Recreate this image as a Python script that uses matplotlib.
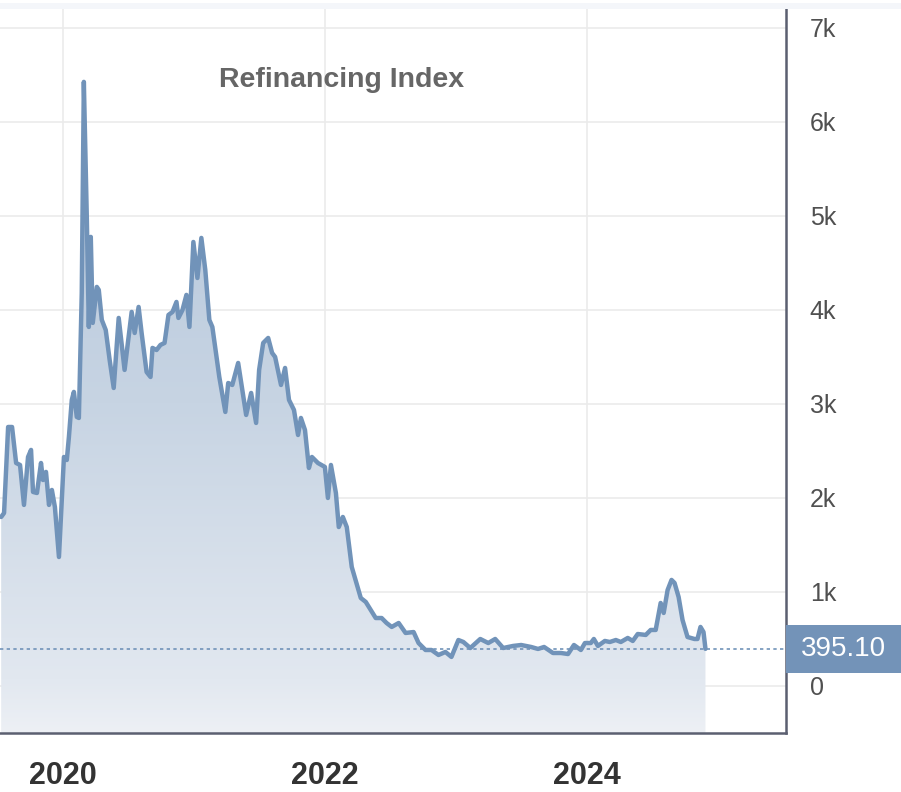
import numpy as np
import matplotlib
matplotlib.use("Agg")
import matplotlib.pyplot as plt
from matplotlib.patches import Rectangle
from matplotlib.colors import LinearSegmentedColormap

plt.rcParams['font.family'] = ['Liberation Sans', 'DejaVu Sans']

# weekly refinancing index (decimal years)
years = [2019.529, 2019.551, 2019.582, 2019.612, 2019.643, 2019.673, 2019.703, 2019.734,
         2019.757, 2019.772, 2019.802, 2019.833, 2019.848, 2019.871, 2019.894, 2019.916,
         2019.939, 2019.970, 2020.008, 2020.030, 2020.046, 2020.068, 2020.084, 2020.106,
         2020.122, 2020.144, 2020.160, 2020.183, 2020.198, 2020.213, 2020.228, 2020.259,
         2020.274, 2020.297, 2020.327, 2020.357, 2020.388, 2020.426, 2020.471, 2020.525,
         2020.548, 2020.578, 2020.601, 2020.639, 2020.669, 2020.684, 2020.715, 2020.745,
         2020.776, 2020.806, 2020.837, 2020.867, 2020.882, 2020.913, 2020.943, 2020.966,
         2020.996, 2021.027, 2021.057, 2021.087, 2021.118, 2021.141, 2021.194, 2021.240,
         2021.262, 2021.293, 2021.338, 2021.399, 2021.437, 2021.475, 2021.498, 2021.529,
         2021.567, 2021.597, 2021.620, 2021.665, 2021.696, 2021.726, 2021.764, 2021.795,
         2021.817, 2021.848, 2021.878, 2021.901, 2021.947, 2022.000, 2022.023, 2022.046,
         2022.084, 2022.106, 2022.137, 2022.167, 2022.205, 2022.274, 2022.312, 2022.388,
         2022.433, 2022.471, 2022.510, 2022.563, 2022.616, 2022.677, 2022.715, 2022.768,
         2022.814, 2022.867, 2022.920, 2022.966, 2023.019, 2023.057, 2023.110, 2023.186,
         2023.247, 2023.300, 2023.361, 2023.437, 2023.498, 2023.574, 2023.627, 2023.673,
         2023.741, 2023.802, 2023.856, 2023.901, 2023.954, 2023.985, 2024.030, 2024.053,
         2024.084, 2024.137, 2024.175, 2024.221, 2024.259, 2024.312, 2024.350, 2024.388,
         2024.449, 2024.487, 2024.525, 2024.563, 2024.586, 2024.616, 2024.646, 2024.669,
         2024.700, 2024.730, 2024.768, 2024.821, 2024.844, 2024.867, 2024.890, 2024.905]
values = [1798, 1840, 2755, 2755, 2372, 2351, 1926, 2436,
          2511, 2064, 2053, 2372, 2191, 2277, 1926, 2085,
          1904, 1372, 2436, 2404, 2649, 3043, 3128, 2862,
          2851, 4181, 6426, 4957, 3819, 4777, 3862, 4245,
          4213, 3894, 3787, 3468, 3170, 3915, 3362, 3979,
          3755, 4032, 3755, 3340, 3287, 3596, 3574, 3628,
          3649, 3947, 3979, 4085, 3915, 4000, 4160, 3819,
          4723, 4340, 4766, 4426, 3894, 3819, 3287, 2915,
          3223, 3202, 3436, 2883, 3117, 2798, 3362, 3649,
          3702, 3543, 3500, 3202, 3383, 3043, 2936, 2670,
          2851, 2723, 2319, 2436, 2372, 2330, 2000, 2351,
          2053, 1691, 1798, 1691, 1266, 936, 894, 723,
          723, 670, 628, 670, 564, 574, 457, 383,
          383, 330, 362, 309, 489, 468, 404, 500,
          457, 500, 404, 426, 436, 415, 394, 415,
          351, 351, 340, 436, 383, 457, 457, 500,
          426, 479, 468, 489, 468, 511, 479, 553,
          543, 596, 596, 883, 777, 1021, 1128, 1096,
          947, 702, 521, 500, 500, 628, 574, 395.1]

last_value = 395.10
year_ticks = [2020, 2022, 2024]
value_ticks = [0, 1000, 2000, 3000, 4000, 5000, 6000, 7000]
value_labels = ['0', '1k', '2k', '3k', '4k', '5k', '6k', '7k']

line_color = '#7193b9'

fig = plt.figure(figsize=(9.01, 7.92), dpi=100)
ax = fig.add_axes([0, 0.0745, 0.8724, 0.914])

x0, x1 = 2019.52, 2025.52
y0, y1 = -500, 7200
ax.set_xlim(x0, x1)
ax.set_ylim(y0, y1)

# gradient fill under the line
cmap = LinearSegmentedColormap.from_list(
    'fill', [(0.0, '#edf0f5'), (0.08, '#e2e8f0'), (0.5, '#c7d4e3'), (1.0, '#b3c5da')])
grad = np.linspace(0, 1, 256).reshape(-1, 1)
img = ax.imshow(grad, extent=[years[0], years[-1], y0, 6500], origin='lower',
                aspect='auto', cmap=cmap, zorder=1)
poly = ax.fill_between(years, values, y0, color='none', lw=0)
clip = poly.get_paths()[0]
img.set_clip_path(clip, transform=ax.transData)

ax.plot(years, values, color=line_color, lw=3.2, solid_joinstyle='round',
        solid_capstyle='round', zorder=3)

# last value marker line
ax.axhline(last_value, color=line_color, lw=1.2, ls=(0, (2, 2)), zorder=2)

ax.set_xticks(year_ticks)
ax.set_xticklabels([str(y) for y in year_ticks])
ax.set_yticks(value_ticks)
ax.set_yticklabels(value_labels)
ax.yaxis.tick_right()
ax.tick_params(axis='y', length=0, pad=17, labelsize=18, labelcolor='#505050')
ax.tick_params(axis='x', length=0, pad=20, labelsize=22, labelcolor='#333333')
for lab in ax.get_xticklabels():
    lab.set_fontweight('bold')

ax.grid(True, color='#ebebeb', lw=1.2, zorder=0)
ax.set_axisbelow(True)
for s in ['left', 'top']:
    ax.spines[s].set_visible(False)
for s in ['right', 'bottom']:
    ax.spines[s].set_color('#5b5f70')
    ax.spines[s].set_linewidth(1.8)

ax.text(0.435, 0.902, 'Refinancing Index', transform=ax.transAxes, ha='center', va='center',
        fontsize=20.5, fontweight='bold', color='#666666')

# value tag on the right
tag_y = ax.transData.transform((0, last_value))[1] / fig.bbox.height
fig.add_artist(Rectangle((0.8724, tag_y - 0.0303), 0.1276, 0.0606, transform=fig.transFigure,
                         facecolor='#7393b8', edgecolor='none'))
fig.text(0.936, tag_y, '395.10', ha='center', va='center', color='white', fontsize=20)

# thin band at the top
fig.add_artist(Rectangle((0, 0.9886), 1, 0.008, transform=fig.transFigure,
                         facecolor='#f4f6fa', edgecolor='none'))

fig.savefig('out.png', dpi=100)
